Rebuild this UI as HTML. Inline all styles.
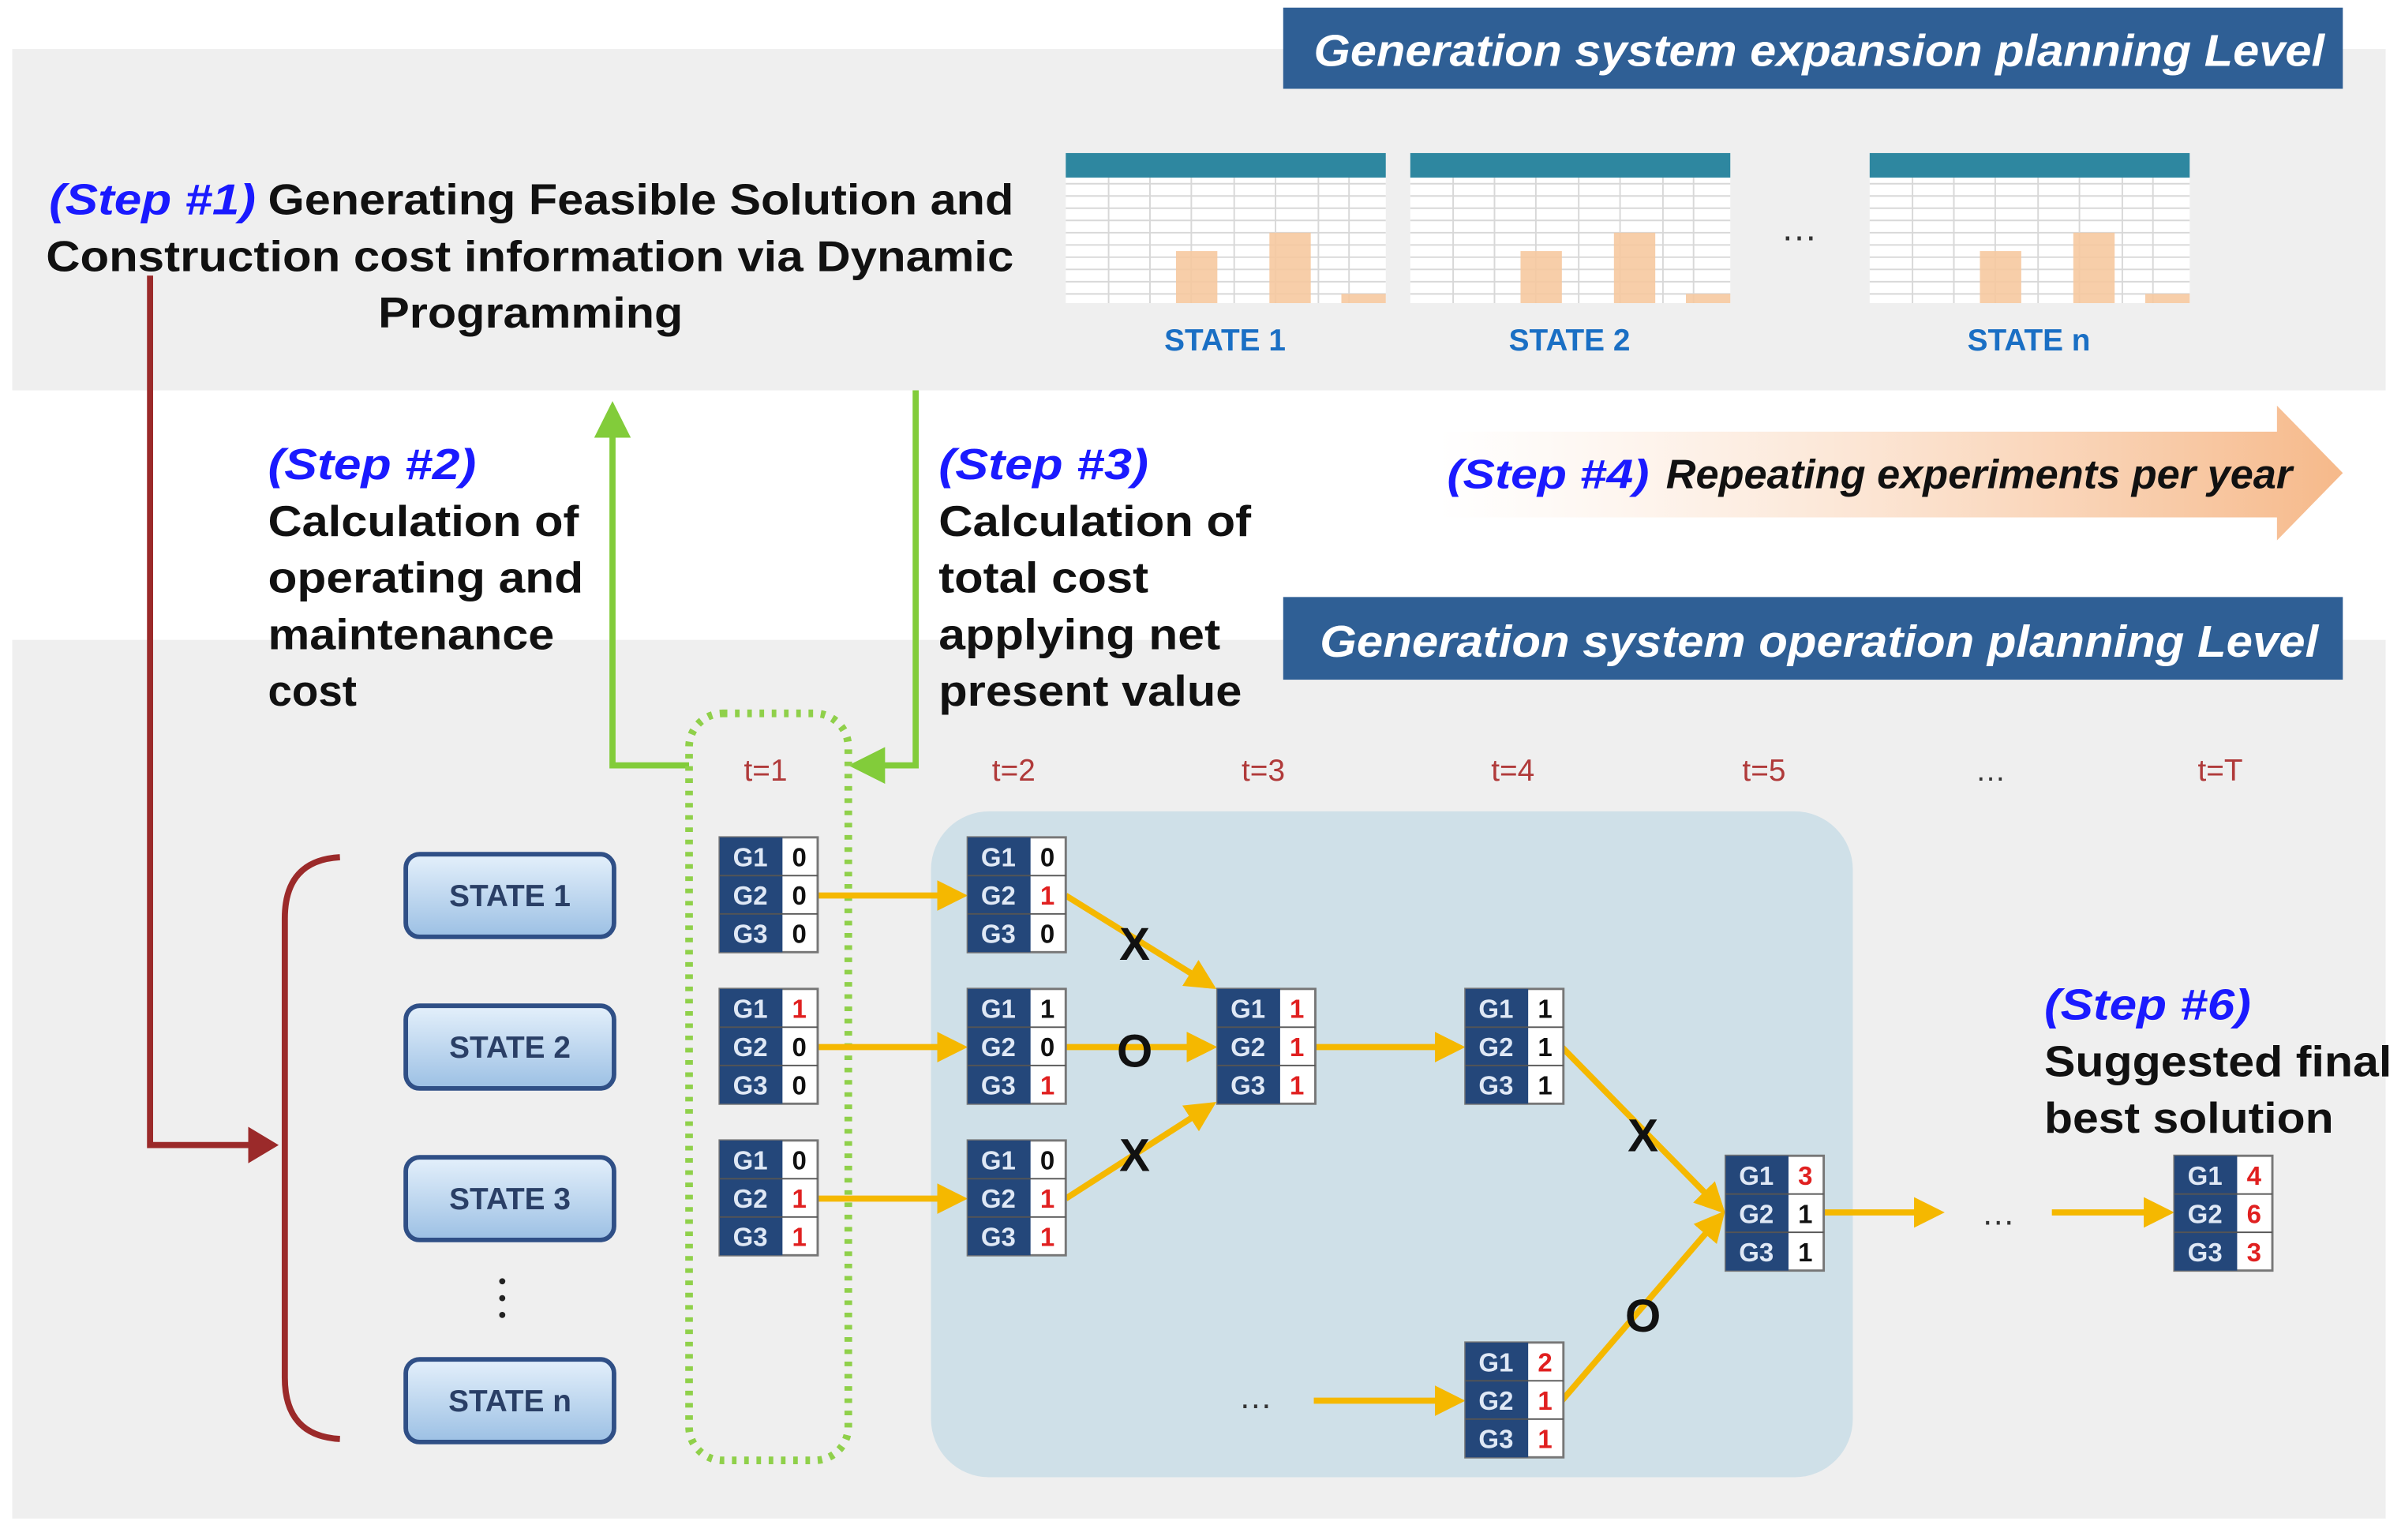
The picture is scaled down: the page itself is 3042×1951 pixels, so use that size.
<!DOCTYPE html>
<html><head><meta charset="utf-8"><style>
html,body{margin:0;padding:0;background:#fff;}
svg{display:block;}
text{font-family:"Liberation Sans","DejaVu Sans",sans-serif;}
.b{font-weight:bold;}
</style></head><body>
<svg width="3042" height="1951" viewBox="0 0 1568 1006" preserveAspectRatio="none" xmlns="http://www.w3.org/2000/svg">
<defs>
<linearGradient id="og" x1="0" x2="1" y1="0" y2="0"><stop offset="0" stop-color="#fff" stop-opacity="0.6"/><stop offset="1" stop-color="#f6b98a"/></linearGradient>
<linearGradient id="sb" x1="0" x2="0" y1="0" y2="1"><stop offset="0" stop-color="#e4f0fb"/><stop offset="1" stop-color="#9cc0e4"/></linearGradient>
<marker id="ga" markerWidth="6" markerHeight="6" refX="5" refY="3" orient="auto" markerUnits="strokeWidth"><path d="M0,0 L6,3 L0,6 z" fill="#82cc3a"/></marker>
<marker id="ra" markerWidth="5" markerHeight="6" refX="4" refY="3" orient="auto" markerUnits="strokeWidth"><path d="M0,0 L5,3 L0,6 z" fill="#9b2a2a"/></marker>
<marker id="ya" markerWidth="5" markerHeight="5" refX="4" refY="2.5" orient="auto" markerUnits="strokeWidth"><path d="M0,0 L5,2.5 L0,5 z" fill="#f5b800"/></marker>
<g id="tbl">
<rect x="0" y="0" width="209" height="98" fill="#fff"/>
<rect x="0" y="0" width="209" height="16" fill="#2e87a0"/>
<g stroke="#d8d8d8" stroke-width="1">
<line x1="0" y1="20" x2="209" y2="20"/><line x1="0" y1="28" x2="209" y2="28"/><line x1="0" y1="36" x2="209" y2="36"/><line x1="0" y1="44" x2="209" y2="44"/><line x1="0" y1="52" x2="209" y2="52"/><line x1="0" y1="60" x2="209" y2="60"/><line x1="0" y1="68" x2="209" y2="68"/><line x1="0" y1="76" x2="209" y2="76"/><line x1="0" y1="84" x2="209" y2="84"/><line x1="0" y1="92" x2="209" y2="92"/>
<line x1="28" y1="16" x2="28" y2="98"/><line x1="55" y1="16" x2="55" y2="98"/><line x1="82" y1="16" x2="82" y2="98"/><line x1="110" y1="16" x2="110" y2="98"/><line x1="137" y1="16" x2="137" y2="98"/><line x1="165" y1="16" x2="165" y2="98"/><line x1="185" y1="16" x2="185" y2="98"/>
</g>
<rect x="72" y="64" width="27" height="34" fill="#f6c9a0" opacity="0.9"/>
<rect x="133" y="52" width="27" height="46" fill="#f6c9a0" opacity="0.9"/>
<rect x="180" y="92" width="29" height="6" fill="#f6c9a0" opacity="0.9"/>
</g>
</defs>

<rect x="8" y="32" width="1550" height="223" fill="#efefef"/>
<rect x="8" y="418" width="1550" height="574" fill="#efefef"/>

<rect x="838" y="5" width="692" height="53" fill="#2f5f95"/>
<text x="858" y="43" fill="#fff" class="b" font-style="italic" font-size="29" textLength="660" lengthAdjust="spacingAndGlyphs">Generation system expansion planning Level</text>
<rect x="838" y="390" width="692" height="54" fill="#2f5f95"/>
<text x="862" y="429" fill="#fff" class="b" font-style="italic" font-size="29" textLength="652" lengthAdjust="spacingAndGlyphs">Generation system operation planning Level</text>

<g class="b" font-size="28" fill="#111">
<text x="32" y="140" fill="#1a1aff" font-style="italic" textLength="135" lengthAdjust="spacingAndGlyphs">(Step #1)</text>
<text x="175" y="140" textLength="487" lengthAdjust="spacingAndGlyphs">Generating Feasible Solution and</text>
<text x="30" y="177" textLength="632" lengthAdjust="spacingAndGlyphs">Construction cost information via Dynamic</text>
<text x="247" y="214" textLength="199" lengthAdjust="spacingAndGlyphs">Programming</text>

<text x="175" y="313" fill="#1a1aff" font-style="italic" textLength="136" lengthAdjust="spacingAndGlyphs">(Step #2)</text>
<text x="175" y="350" textLength="203" lengthAdjust="spacingAndGlyphs">Calculation of</text>
<text x="175" y="387" textLength="206" lengthAdjust="spacingAndGlyphs">operating and</text>
<text x="175" y="424" textLength="187" lengthAdjust="spacingAndGlyphs">maintenance</text>
<text x="175" y="461" textLength="58" lengthAdjust="spacingAndGlyphs">cost</text>

<text x="613" y="313" fill="#1a1aff" font-style="italic" textLength="137" lengthAdjust="spacingAndGlyphs">(Step #3)</text>
<text x="613" y="350" textLength="204" lengthAdjust="spacingAndGlyphs">Calculation of</text>
<text x="613" y="387" textLength="137" lengthAdjust="spacingAndGlyphs">total cost</text>
<text x="613" y="424" textLength="184" lengthAdjust="spacingAndGlyphs">applying net</text>
<text x="613" y="461" textLength="198" lengthAdjust="spacingAndGlyphs">present value</text>

<text x="965" y="564" fill="#1a1aff" font-style="italic" textLength="135" lengthAdjust="spacingAndGlyphs">(Step #5)</text>
<text x="965" y="602" textLength="225" lengthAdjust="spacingAndGlyphs">Branch-and-cut</text>
<text x="1335" y="666" fill="#1a1aff" font-style="italic" textLength="135" lengthAdjust="spacingAndGlyphs">(Step #6)</text>
<text x="1335" y="703" textLength="227" lengthAdjust="spacingAndGlyphs">Suggested final</text>
<text x="1335" y="740" textLength="189" lengthAdjust="spacingAndGlyphs">best solution</text>
</g>

<use href="#tbl" x="696" y="100"/>
<use href="#tbl" x="921" y="100"/>
<use href="#tbl" x="1221" y="100"/>
<text x="800" y="229" text-anchor="middle" class="b" font-size="20" fill="#1a6fc4">STATE 1</text>
<text x="1025" y="229" text-anchor="middle" class="b" font-size="20" fill="#1a6fc4">STATE 2</text>
<text x="1325" y="229" text-anchor="middle" class="b" font-size="20" fill="#1a6fc4">STATE n</text>
<text x="1175" y="157" text-anchor="middle" font-size="24" fill="#333">…</text>

<path d="M940,282 L1487,282 L1487,265 L1530,309 L1487,353 L1487,338 L940,338 z" fill="url(#og)"/>
<text x="945" y="319" font-size="27" class="b" font-style="italic" fill="#1a1aff" textLength="132" lengthAdjust="spacingAndGlyphs">(Step #4)</text>
<text x="1088" y="319" font-size="27" class="b" font-style="italic" fill="#111" textLength="409" lengthAdjust="spacingAndGlyphs">Repeating experiments per year</text>

<polyline points="450,500 400,500 400,266" fill="none" stroke="#82cc3a" stroke-width="4" marker-end="url(#ga)"/>
<polyline points="598,255 598,500 558,500" fill="none" stroke="#82cc3a" stroke-width="4" marker-end="url(#ga)"/>

<polyline points="98,180 98,748 178,748" fill="none" stroke="#9b2a2a" stroke-width="4" marker-end="url(#ra)"/>
<path d="M222,560 Q186,562 186,600 L186,900 Q186,938 222,940" fill="none" stroke="#9b2a2a" stroke-width="4"/>

<g font-size="20" class="b" fill="#2a3f66" text-anchor="middle">
<rect x="265" y="558" width="136" height="54" rx="9" fill="url(#sb)" stroke="#2f4f86" stroke-width="3"/><text x="333" y="592">STATE 1</text>
<rect x="265" y="657" width="136" height="54" rx="9" fill="url(#sb)" stroke="#2f4f86" stroke-width="3"/><text x="333" y="691">STATE 2</text>
<rect x="265" y="756" width="136" height="54" rx="9" fill="url(#sb)" stroke="#2f4f86" stroke-width="3"/><text x="333" y="790">STATE 3</text>
<rect x="265" y="888" width="136" height="54" rx="9" fill="url(#sb)" stroke="#2f4f86" stroke-width="3"/><text x="333" y="922">STATE n</text>
</g>
<g fill="#222"><circle cx="328" cy="837" r="2"/><circle cx="328" cy="848" r="2"/><circle cx="328" cy="859" r="2"/></g>

<rect x="608" y="530" width="602" height="435" rx="38" fill="#cfe0e8"/>
<rect x="450" y="466" width="104" height="488" rx="22" fill="none" stroke="#8fd04a" stroke-width="5" stroke-dasharray="3,5"/>

<g font-size="20" fill="#b03a3a" text-anchor="middle">
<text x="500" y="510">t=1</text><text x="662" y="510">t=2</text><text x="825" y="510">t=3</text><text x="988" y="510">t=4</text><text x="1152" y="510">t=5</text><text x="1300" y="510" fill="#333">…</text><text x="1450" y="510">t=T</text>
</g>

<g stroke="#f5b800" stroke-width="4" fill="none" marker-end="url(#ya)">
<line x1="533" y1="585" x2="628" y2="585"/>
<line x1="533" y1="684" x2="628" y2="684"/>
<line x1="533" y1="783" x2="628" y2="783"/>
<line x1="696" y1="585" x2="791" y2="644"/>
<line x1="696" y1="684" x2="791" y2="684"/>
<line x1="696" y1="783" x2="791" y2="722"/>
<line x1="858" y1="684" x2="953" y2="684"/>
<line x1="1020" y1="684" x2="1124" y2="790"/>
<line x1="1020" y1="915" x2="1124" y2="794"/>
<line x1="858" y1="915" x2="953" y2="915"/>
<line x1="1190" y1="792" x2="1266" y2="792"/>
<line x1="1340" y1="792" x2="1416" y2="792"/>
</g>
<g class="b" font-size="30" fill="#111" text-anchor="middle">
<text x="741" y="627">X</text><text x="741" y="697">O</text><text x="741" y="765">X</text>
<text x="1073" y="752">X</text><text x="1073" y="870">O</text>
</g>
<text x="820" y="920" text-anchor="middle" font-size="22" fill="#333">…</text>
<text x="1305" y="800" text-anchor="middle" font-size="22" fill="#333">…</text>

<g font-size="17" class="b">
<g transform="translate(470,547)"><rect width="64" height="75" fill="#fff" stroke="#777" stroke-width="1.5"/><rect width="41" height="75" fill="#24477a"/><g fill="#dfe8f5" text-anchor="middle"><text x="20" y="19">G1</text><text x="20" y="44">G2</text><text x="20" y="69">G3</text></g><g fill="#111" text-anchor="middle"><text x="52" y="19">0</text><text x="52" y="44">0</text><text x="52" y="69">0</text></g><line x1="0" y1="25" x2="64" y2="25" stroke="#555"/><line x1="0" y1="50" x2="64" y2="50" stroke="#555"/></g>
<g transform="translate(470,646)"><rect width="64" height="75" fill="#fff" stroke="#777" stroke-width="1.5"/><rect width="41" height="75" fill="#24477a"/><g fill="#dfe8f5" text-anchor="middle"><text x="20" y="19">G1</text><text x="20" y="44">G2</text><text x="20" y="69">G3</text></g><g fill="#111" text-anchor="middle"><text x="52" y="19" fill="#e02020">1</text><text x="52" y="44">0</text><text x="52" y="69">0</text></g><line x1="0" y1="25" x2="64" y2="25" stroke="#555"/><line x1="0" y1="50" x2="64" y2="50" stroke="#555"/></g>
<g transform="translate(470,745)"><rect width="64" height="75" fill="#fff" stroke="#777" stroke-width="1.5"/><rect width="41" height="75" fill="#24477a"/><g fill="#dfe8f5" text-anchor="middle"><text x="20" y="19">G1</text><text x="20" y="44">G2</text><text x="20" y="69">G3</text></g><g fill="#111" text-anchor="middle"><text x="52" y="19">0</text><text x="52" y="44" fill="#e02020">1</text><text x="52" y="69" fill="#e02020">1</text></g><line x1="0" y1="25" x2="64" y2="25" stroke="#555"/><line x1="0" y1="50" x2="64" y2="50" stroke="#555"/></g>

<g transform="translate(632,547)"><rect width="64" height="75" fill="#fff" stroke="#777" stroke-width="1.5"/><rect width="41" height="75" fill="#24477a"/><g fill="#dfe8f5" text-anchor="middle"><text x="20" y="19">G1</text><text x="20" y="44">G2</text><text x="20" y="69">G3</text></g><g fill="#111" text-anchor="middle"><text x="52" y="19">0</text><text x="52" y="44" fill="#e02020">1</text><text x="52" y="69">0</text></g><line x1="0" y1="25" x2="64" y2="25" stroke="#555"/><line x1="0" y1="50" x2="64" y2="50" stroke="#555"/></g>
<g transform="translate(632,646)"><rect width="64" height="75" fill="#fff" stroke="#777" stroke-width="1.5"/><rect width="41" height="75" fill="#24477a"/><g fill="#dfe8f5" text-anchor="middle"><text x="20" y="19">G1</text><text x="20" y="44">G2</text><text x="20" y="69">G3</text></g><g fill="#111" text-anchor="middle"><text x="52" y="19">1</text><text x="52" y="44">0</text><text x="52" y="69" fill="#e02020">1</text></g><line x1="0" y1="25" x2="64" y2="25" stroke="#555"/><line x1="0" y1="50" x2="64" y2="50" stroke="#555"/></g>
<g transform="translate(632,745)"><rect width="64" height="75" fill="#fff" stroke="#777" stroke-width="1.5"/><rect width="41" height="75" fill="#24477a"/><g fill="#dfe8f5" text-anchor="middle"><text x="20" y="19">G1</text><text x="20" y="44">G2</text><text x="20" y="69">G3</text></g><g fill="#111" text-anchor="middle"><text x="52" y="19">0</text><text x="52" y="44" fill="#e02020">1</text><text x="52" y="69" fill="#e02020">1</text></g><line x1="0" y1="25" x2="64" y2="25" stroke="#555"/><line x1="0" y1="50" x2="64" y2="50" stroke="#555"/></g>

<g transform="translate(795,646)"><rect width="64" height="75" fill="#fff" stroke="#777" stroke-width="1.5"/><rect width="41" height="75" fill="#24477a"/><g fill="#dfe8f5" text-anchor="middle"><text x="20" y="19">G1</text><text x="20" y="44">G2</text><text x="20" y="69">G3</text></g><g fill="#e02020" text-anchor="middle"><text x="52" y="19">1</text><text x="52" y="44">1</text><text x="52" y="69">1</text></g><line x1="0" y1="25" x2="64" y2="25" stroke="#555"/><line x1="0" y1="50" x2="64" y2="50" stroke="#555"/></g>

<g transform="translate(957,646)"><rect width="64" height="75" fill="#fff" stroke="#777" stroke-width="1.5"/><rect width="41" height="75" fill="#24477a"/><g fill="#dfe8f5" text-anchor="middle"><text x="20" y="19">G1</text><text x="20" y="44">G2</text><text x="20" y="69">G3</text></g><g fill="#111" text-anchor="middle"><text x="52" y="19">1</text><text x="52" y="44">1</text><text x="52" y="69">1</text></g><line x1="0" y1="25" x2="64" y2="25" stroke="#555"/><line x1="0" y1="50" x2="64" y2="50" stroke="#555"/></g>
<g transform="translate(957,877)"><rect width="64" height="75" fill="#fff" stroke="#777" stroke-width="1.5"/><rect width="41" height="75" fill="#24477a"/><g fill="#dfe8f5" text-anchor="middle"><text x="20" y="19">G1</text><text x="20" y="44">G2</text><text x="20" y="69">G3</text></g><g fill="#e02020" text-anchor="middle"><text x="52" y="19">2</text><text x="52" y="44">1</text><text x="52" y="69">1</text></g><line x1="0" y1="25" x2="64" y2="25" stroke="#555"/><line x1="0" y1="50" x2="64" y2="50" stroke="#555"/></g>

<g transform="translate(1127,755)"><rect width="64" height="75" fill="#fff" stroke="#777" stroke-width="1.5"/><rect width="41" height="75" fill="#24477a"/><g fill="#dfe8f5" text-anchor="middle"><text x="20" y="19">G1</text><text x="20" y="44">G2</text><text x="20" y="69">G3</text></g><g fill="#111" text-anchor="middle"><text x="52" y="19" fill="#e02020">3</text><text x="52" y="44">1</text><text x="52" y="69">1</text></g><line x1="0" y1="25" x2="64" y2="25" stroke="#555"/><line x1="0" y1="50" x2="64" y2="50" stroke="#555"/></g>

<g transform="translate(1420,755)"><rect width="64" height="75" fill="#fff" stroke="#777" stroke-width="1.5"/><rect width="41" height="75" fill="#24477a"/><g fill="#dfe8f5" text-anchor="middle"><text x="20" y="19">G1</text><text x="20" y="44">G2</text><text x="20" y="69">G3</text></g><g fill="#e02020" text-anchor="middle"><text x="52" y="19">4</text><text x="52" y="44">6</text><text x="52" y="69">3</text></g><line x1="0" y1="25" x2="64" y2="25" stroke="#555"/><line x1="0" y1="50" x2="64" y2="50" stroke="#555"/></g>
</g>
</svg>
</body></html>
